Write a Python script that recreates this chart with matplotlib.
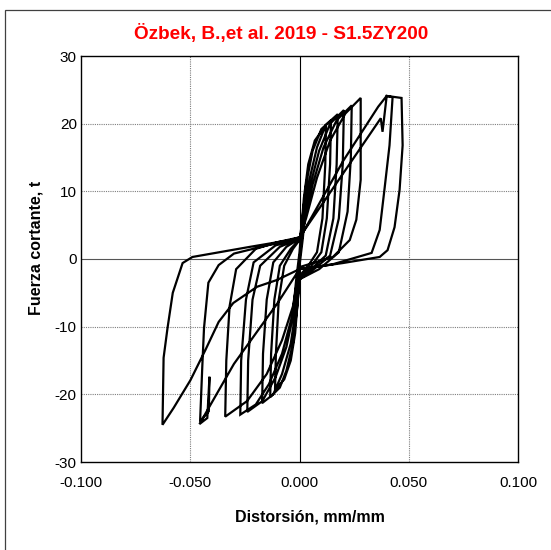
import matplotlib
matplotlib.use("Agg")
import matplotlib.pyplot as plt
from matplotlib.patches import Rectangle

plt.rcParams['font.family'] = ['Liberation Sans', 'DejaVu Sans']

title = "Özbek, B.,et al. 2019 - S1.5ZY200"
xlabel = "Distorsión, mm/mm"
ylabel = "Fuerza cortante, t"
xticks = [-0.100, -0.050, 0.000, 0.050, 0.100]
yticks = [-30, -20, -10, 0, 10, 20, 30]

# hysteresis path, cycle by cycle (distortion, shear force)
c0_x = [0.0, 0.0015, 0.003, 0.0015, 0.0, -0.0015, -0.003, -0.0015, 0.0]
c0_y = [0.0, 4.0, 8.0, 3.0, -1.0, -4.0, -8.0, -3.0, 1.0]

c1_x = [0.0005, 0.002, 0.004, 0.007, 0.0121, 0.0118, 0.0105, 0.008, 0.004, 0.0,
        -0.0005, -0.002, -0.004, -0.007, -0.0112, -0.0108, -0.0095, -0.007, -0.003, 0.0]
c1_y = [3.0, 9.0, 14.0, 17.5, 19.8, 14.0, 6.0, 1.0, -1.0, -2.5,
        -5.0, -11.0, -15.0, -17.8, -19.3, -14.0, -6.0, -1.0, 1.5, 2.8]

c2_x = [0.001, 0.003, 0.006, 0.010, 0.0144, 0.014, 0.0125, 0.010, 0.005, 0.0,
        -0.001, -0.003, -0.006, -0.009, -0.0134, -0.013, -0.0115, -0.009, -0.004, 0.0]
c2_y = [5.0, 11.0, 16.0, 19.2, 20.5, 14.0, 6.0, 1.0, -1.2, -2.8,
        -7.0, -12.5, -16.5, -19.0, -20.4, -14.0, -6.0, -1.0, 1.5, 2.9]

c3_x = [0.001, 0.004, 0.008, 0.012, 0.0175, 0.017, 0.0155, 0.012, 0.006, 0.0,
        -0.001, -0.004, -0.008, -0.012, -0.0171, -0.0167, -0.015, -0.012, -0.006, 0.0]
c3_y = [4.0, 11.0, 16.5, 19.8, 21.4, 14.0, 6.0, 0.5, -1.3, -3.0,
        -6.0, -12.5, -17.0, -20.0, -21.3, -14.0, -6.0, -0.5, 1.8, 3.0]

c4_x = [0.002, 0.005, 0.009, 0.014, 0.0203, 0.0198, 0.018, 0.014, 0.007, 0.0,
        -0.002, -0.006, -0.011, -0.017, -0.0239, -0.0235, -0.0215, -0.018, -0.009, 0.0]
c4_y = [5.0, 11.0, 16.0, 20.0, 22.0, 14.0, 6.0, 0.5, -1.4, -3.0,
        -7.0, -13.0, -17.5, -21.0, -22.6, -15.0, -6.0, -1.0, 1.8, 3.0]

c5_x = [0.002, 0.006, 0.011, 0.017, 0.0239, 0.0235, 0.022, 0.018, 0.009, 0.0,
        -0.003, -0.008, -0.014, -0.020, -0.0271, -0.0267, -0.0245, -0.021, -0.011, 0.0]
c5_y = [5.5, 11.0, 16.5, 20.5, 22.7, 15.0, 7.0, 1.0, -1.5, -3.0,
        -8.0, -14.0, -18.5, -21.5, -23.0, -15.0, -6.0, -0.5, 2.0, 3.0]

c6_x = [0.003, 0.008, 0.014, 0.021, 0.028, 0.028, 0.026, 0.023, 0.0153, 0.0,
        -0.003, -0.008, -0.015, -0.024, -0.034, -0.0335, -0.032, -0.029, -0.020, -0.010, 0.0]
c6_y = [6.0, 12.0, 17.5, 21.5, 23.8, 11.7, 5.8, 2.8, 0.3, -1.2,
        -7.0, -12.0, -17.0, -21.0, -23.3, -15.0, -7.0, -1.5, 1.5, 2.5, 3.2]

c7_x = [0.0372, 0.038, 0.0399, 0.0467, 0.0472, 0.0458, 0.0435, 0.0403, 0.0367, 0.0198, 0.0,
        -0.003, -0.010, -0.020, -0.030, -0.0458, -0.0422, -0.0412, -0.0415, -0.0455,
        -0.0445, -0.0437, -0.0417, -0.037, -0.030, -0.015, 0.0]
c7_y = [20.8, 18.8, 24.1, 23.8, 16.8, 10.2, 4.7, 1.3, 0.3, -0.6, -1.5,
        -3.0, -6.5, -11.0, -15.5, -24.4, -23.5, -17.4, -22.5, -24.0,
        -16.0, -10.2, -3.5, -0.9, 0.8, 2.0, 3.0]

c8_x = [0.020, 0.036, 0.0399, 0.0426, 0.0412, 0.039, 0.0367, 0.033, 0.015, 0.0,
        -0.0103, -0.0194, -0.0303, -0.037, -0.043, -0.0499, -0.0576, -0.0627,
        -0.0622, -0.0604, -0.058, -0.0535, -0.049, -0.0226, -0.0043, 0.0]
c8_y = [14.5, 22.5, 24.1, 23.9, 16.8, 10.6, 4.3, 0.9, -0.8, -1.5,
        -3.1, -4.1, -6.5, -9.3, -13.4, -17.9, -22.0, -24.5,
        -14.6, -10.2, -5.0, -0.6, 0.3, 1.8, 2.8, 3.2]

distortion = c0_x + c1_x + c2_x + c3_x + c4_x + c5_x + c6_x + c7_x + c8_x
force = c0_y + c1_y + c2_y + c3_y + c4_y + c5_y + c6_y + c7_y + c8_y

W, H = 551, 550
fig = plt.figure(figsize=(W / 100, H / 100), dpi=100)
ax = fig.add_axes([81 / W, 1 - 462 / H, (518 - 81) / W, (462 - 56) / H])

# outer chart-area border (only top/left visible)
fig.patches.append(Rectangle((5 / W, -0.05), 1.2, 1 - 9.5 / H + 0.05, transform=fig.transFigure,
                             fill=False, edgecolor='#404040', linewidth=0.9, clip_on=False))

ax.set_xlim(-0.1, 0.1)
ax.set_ylim(-30, 30)
ax.set_xticks(xticks)
ax.set_yticks(yticks)
ax.set_xticklabels([f"{v:.3f}" for v in xticks], fontsize=11)
ax.set_yticklabels([f"{v:d}" for v in yticks], fontsize=11)
ax.tick_params(axis='x', length=0, pad=10)
ax.tick_params(axis='y', length=0, pad=3)

for v in [-0.05, 0.05]:
    ax.axvline(v, color='#7f7f7f', linestyle=(0, (1, 1)), linewidth=0.8, zorder=1)
for v in [-20, -10, 10, 20]:
    ax.axhline(v, color='#7f7f7f', linestyle=(0, (1, 1)), linewidth=0.8, zorder=1)
ax.axvline(0, color='black', linewidth=0.8, zorder=1)
ax.axhline(0, color='#555555', linewidth=0.8, zorder=1)

ax.plot(distortion, force, color='black', linewidth=1.6, solid_joinstyle='miter', zorder=3)

for s in ax.spines.values():
    s.set_linewidth(1.0)
    s.set_color('black')

fig.text(310 / W, 1 - 517 / H, xlabel, fontsize=11.5, fontweight='bold', ha='center', va='center')
fig.text(36 / W, 1 - 248 / H, ylabel, fontsize=11.5, fontweight='bold', ha='center', va='center',
         rotation=90)
fig.text(281 / W, 1 - 33 / H, title, color='red', fontsize=13.7, fontweight='bold',
         ha='center', va='center')

fig.savefig("out.png", dpi=100)
